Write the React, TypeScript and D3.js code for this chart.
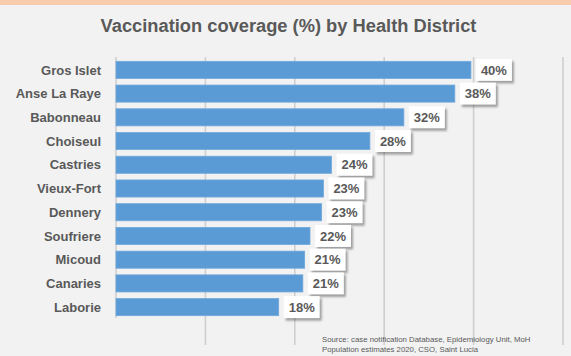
import React from "react";
import * as d3 from "d3";

const categories = [
  "Gros Islet",
  "Anse La Raye",
  "Babonneau",
  "Choiseul",
  "Castries",
  "Vieux-Fort",
  "Dennery",
  "Soufriere",
  "Micoud",
  "Canaries",
  "Laborie",
];
const coverage = [39.7, 37.9, 32.2, 28.4, 24.1, 23.2, 23.0, 21.7, 21.1, 20.9, 18.2];
const gridTicks = [0, 10, 20, 30, 40, 50];
const title = "Vaccination coverage (%) by Health District";
const sourceLines = [
  "Source: case notification Database, Epidemiology Unit, MoH",
  "Population estimates 2020, CSO, Saint Lucia",
];

const W = 571;
const H = 356;
const FONT = "'Liberation Sans', Arial, sans-serif";
const TEXT = "#595959";

export default function App() {
  const x = d3.scaleLinear().domain([0, 50]).range([116, 563]);
  const y = d3
    .scaleBand<string>()
    .domain(categories)
    .range([58, 319])
    .paddingInner(0.28)
    .paddingOuter(0.14);
  const bw = y.bandwidth();

  return (
    <svg
      width={W}
      height={H}
      style={{ position: "absolute", left: 0, top: 0, display: "block" }}
      fontFamily={FONT}
    >
      <defs>
        <filter id="shadow" x="-30%" y="-30%" width="160%" height="160%">
          <feGaussianBlur stdDeviation="1" />
        </filter>
      </defs>
      <rect x={0} y={0} width={W} height={H} fill="#F2F2F2" />
      <rect x={0} y={0} width={W} height={5} fill="#F8CBAD" />

      <text
        x={288.5}
        y={32}
        textAnchor="middle"
        fontSize={18.3}
        fontWeight="bold"
        fill={TEXT}
      >
        {title}
      </text>

      {gridTicks.map((t) => (
        <line
          key={t}
          x1={x(t)}
          x2={x(t)}
          y1={57}
          y2={t === 0 ? 318 : 345}
          stroke="#CFCFCF"
          strokeWidth={1.6}
        />
      ))}

      {categories.map((c, i) => {
        const y0 = y(c)!;
        const xe = x(coverage[i]);
        const bx = xe + 5;
        const bwid = 36;
        const bh = 22;
        const by = y0 + bw / 2 - bh / 2;
        return (
          <g key={c}>
            <rect
              x={x(0)}
              y={y0}
              width={xe - x(0)}
              height={bw}
              fill="#5B9BD5"
              stroke="#6FA8DC"
              strokeWidth={0.8}
            />
            <text
              x={101}
              y={y0 + bw / 2}
              dy="0.36em"
              textAnchor="end"
              fontSize={13}
              fontWeight="bold"
              fill={TEXT}
            >
              {c}
            </text>
            <rect
              x={bx + 2}
              y={by + 2.5}
              width={bwid}
              height={bh}
              fill="rgba(0,0,0,0.35)"
              filter="url(#shadow)"
            />
            <rect x={bx} y={by} width={bwid} height={bh} fill="#FFFFFF" />
            <text
              x={bx + bwid / 2}
              y={by + bh / 2}
              dy="0.36em"
              textAnchor="middle"
              fontSize={13}
              fontWeight="bold"
              fill={TEXT}
            >
              {`${Math.round(coverage[i])}%`}
            </text>
          </g>
        );
      })}

      {sourceLines.map((s, i) => (
        <text key={i} x={322} y={342 + i * 9.5} fontSize={7.8} fill={TEXT}>
          {s}
        </text>
      ))}
    </svg>
  );
}
